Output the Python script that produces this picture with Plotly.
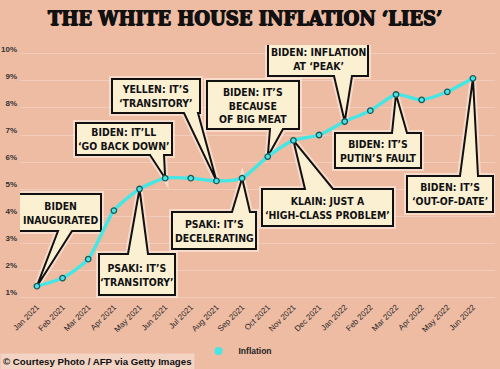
import plotly.graph_objects as go

# ---------------- data ----------------
months = ["Jan 2021", "Feb 2021", "Mar 2021", "Apr 2021", "May 2021", "Jun 2021",
          "Jul 2021", "Aug 2021", "Sep 2021", "Oct 2021", "Nov 2021", "Dec 2021",
          "Jan 2022", "Feb 2022", "Mar 2022", "Apr 2022", "May 2022", "Jun 2022"]
inflation = [1.4, 1.7, 2.4, 4.2, 5.0, 5.4, 5.4, 5.3, 5.4, 6.2, 6.8, 7.0,
             7.5, 7.9, 8.5, 8.3, 8.6, 9.1]
y_ticks = [1, 2, 3, 4, 5, 6, 7, 8, 9, 10]
y_tick_labels = [f"{v}%" for v in y_ticks]

quote_texts = [
    "BIDEN<br>INAUGURATED",
    "PSAKI: IT’S<br>‘TRANSITORY’",
    "BIDEN: IT’LL<br>‘GO BACK DOWN’",
    "YELLEN: IT’S<br>‘TRANSITORY’",
    "BIDEN: IT’S<br>BECAUSE<br>OF BIG MEAT",
    "BIDEN: INFLATION<br>AT ‘PEAK’",
    "BIDEN: IT’S<br>PUTIN’S FAULT",
    "BIDEN: IT’S<br>‘OUT-OF-DATE’",
    "KLAIN: JUST A<br>‘HIGH-CLASS PROBLEM’",
    "PSAKI: IT’S<br>DECELERATING",
]
quote_month = ["Jan 2021", "May 2021", "Jun 2021", "Aug 2021", "Oct 2021",
               "Jan 2022", "Mar 2022", "Jun 2022", "Nov 2021", "Sep 2021"]

# ---------------- layout / style ----------------
W_PX, H_PX = 500, 369
M_L, M_R, M_T, M_B = 20, 5, 45, 69
PLOT_W = W_PX - M_L - M_R
PLOT_H = H_PX - M_T - M_B
X_RANGE = [-0.66, 17.86]
Y_RANGE = [0.889, 10.333]

BG = "#EEBBA3"
CREAM = "#FCF0D3"
CYAN = "#45E6E4"

# callout boxes: left, top, width, height (px), tail side, tail base x0, x1 (px)
boxes = [
    (19, 194, 82, 37, "bottom", 58, 72),
    (99, 254, 76, 41, "top", 128, 148),
    (76, 123, 96, 32, "bottom", 150, 164),
    (112, 79, 88, 34, "bottom", 184, 198),
    (207, 81, 92, 48, "bottom", 270, 283),
    (268, 42, 100, 34, "bottom", 334, 352),
    (335, 133, 86, 35, "top", 392, 407),
    (407, 176, 86, 36, "top", 460, 478),
    (262, 189, 131, 37, "top", 305, 333),
    (172, 212, 84, 37, "top", 232, 250),
]


def px2x(p):
    return X_RANGE[0] + (p - M_L) / PLOT_W * (X_RANGE[1] - X_RANGE[0])


def py2y(p):
    return Y_RANGE[1] - (p - M_T) / PLOT_H * (Y_RANGE[1] - Y_RANGE[0])


def px2paper(p):
    return (p - M_L) / PLOT_W


def py2paper(p):
    return (M_T + PLOT_H - p) / PLOT_H


x_idx = list(range(len(months)))

fig = go.Figure()
fig.add_trace(go.Scatter(
    x=x_idx, y=inflation, mode="lines+markers", name="Inflation",
    line=dict(color=CYAN, width=3.4, shape="spline", smoothing=0.6),
    marker=dict(size=5.5, color=CYAN, line=dict(color="#17585C", width=1.3)),
    showlegend=False, hoverinfo="skip"))
fig.add_trace(go.Scatter(
    x=[None], y=[None], mode="markers", name="Inflation",
    marker=dict(size=8, color=CYAN), showlegend=True))

shapes = []
annotations = []
for text, m, (bl, bt, bw, bh, side, b0, b1) in zip(quote_texts, quote_month, boxes):
    i = months.index(m)
    tx, ty = i, inflation[i]
    L, R = px2x(bl), px2x(bl + bw)
    T, B = py2y(bt), py2y(bt + bh)
    X0, X1 = px2x(b0), px2x(b1)
    if side == "bottom":
        pts = [(L, T), (R, T), (R, B), (X1, B), (tx, ty), (X0, B), (L, B)]
    else:
        pts = [(L, T), (X0, T), (tx, ty), (X1, T), (R, T), (R, B), (L, B)]
    path = "M " + " L ".join(f"{a:.4f},{b:.4f}" for a, b in pts) + " Z"
    shapes.append(dict(type="path", path=path, xref="x", yref="y", layer="between",
                       fillcolor="rgba(0,0,0,0)",
                       line=dict(color="rgba(255,245,235,0.55)", width=6)))
    shapes.append(dict(type="path", path=path, xref="x", yref="y", layer="between",
                       fillcolor=CREAM, line=dict(color="#111111", width=2)))
    annotations.append(dict(
        x=(L + R) / 2, y=(T + B) / 2, xref="x", yref="y", text=text,
        showarrow=False, xanchor="center", yanchor="middle", align="center",
        font=dict(family="Liberation Sans Narrow, DejaVu Sans Condensed, Arial Narrow, sans-serif",
                  size=10.4, color="#111111", weight="bold")))

annotations.append(dict(
    x=px2paper(245), y=py2paper(18), xref="paper", yref="paper",
    text="THE WHITE HOUSE INFLATION ‘LIES’", showarrow=False,
    xanchor="center", yanchor="middle",
    font=dict(family="DejaVu Serif Condensed, DejaVu Serif, serif", size=20,
              color="#111111", weight="bold",
              shadow="0.7px 0 0 #111111, -0.7px 0 0 #111111, 0 0.6px 0 #111111")))

annotations.append(dict(
    x=px2paper(0), y=py2paper(361), xref="paper", yref="paper",
    text="© Courtesy Photo / AFP via Getty Images", showarrow=False,
    xanchor="left", yanchor="middle", bgcolor="#F3D3C4", borderpad=2,
    font=dict(family="Liberation Sans, Arial, sans-serif", size=9.7,
              color="#111111", weight="bold")))

fig.update_layout(
    width=W_PX, height=H_PX,
    margin=dict(l=M_L, r=M_R, t=M_T, b=M_B, autoexpand=False),
    paper_bgcolor=BG, plot_bgcolor=BG,
    shapes=shapes, annotations=annotations,
    legend=dict(orientation="h", x=px2paper(238), xanchor="center", y=py2paper(351),
                yanchor="middle", bgcolor="rgba(0,0,0,0)",
                font=dict(family="Liberation Sans, Arial, sans-serif", size=8.5,
                          color="#222222", weight="bold"),
                itemwidth=30),
    xaxis=dict(range=X_RANGE, tickmode="array", tickvals=x_idx, ticktext=months,
               tickangle=-45, showgrid=False, zeroline=False, showline=False,
               ticks="", automargin=False,
               tickfont=dict(family="Liberation Sans, Arial, sans-serif", size=8,
                             color="#2a2a2a")),
    yaxis=dict(range=Y_RANGE, tickmode="array", tickvals=y_ticks,
               ticktext=y_tick_labels, showgrid=True,
               gridcolor="rgba(255,255,255,0.25)", gridwidth=1, zeroline=False,
               showline=False, ticks="", automargin=False, ticklabelshift=-5,
               ticklabelstandoff=2,
               tickfont=dict(family="Liberation Sans, Arial, sans-serif", size=8,
                             color="#333333", weight="bold")),
)

fig.write_html("out.html", config={"displayModeBar": False},
               post_script="document.body.style.margin='0';")
